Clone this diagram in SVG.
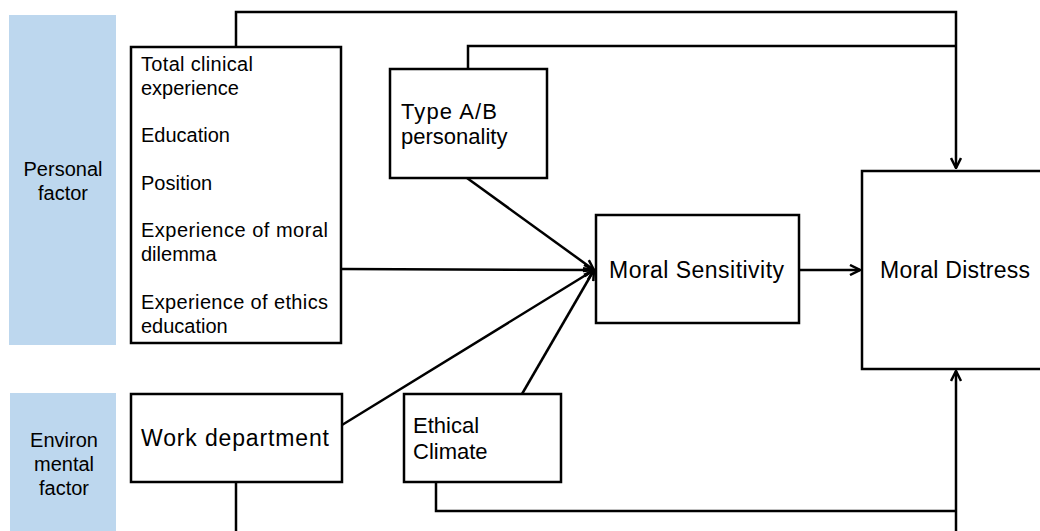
<svg xmlns="http://www.w3.org/2000/svg" width="1040" height="531" viewBox="0 0 1040 531">
<defs>
<style>
.box{fill:#fff;stroke:#000;stroke-width:2.5}
.band{fill:#BDD7EE}
.t{font-family:"Liberation Sans",Arial,sans-serif;font-size:20px;fill:#000}
.tl{font-family:"Liberation Sans",Arial,sans-serif;font-size:22px;fill:#000}
.tx{font-family:"Liberation Sans",Arial,sans-serif;font-size:23px;fill:#000}
.c{stroke:#000;stroke-width:2.5;fill:none}
</style>
<marker id="arr" viewBox="0 0 12 12" refX="11" refY="6" markerWidth="12" markerHeight="12" markerUnits="userSpaceOnUse" orient="auto">
<path d="M1,1 L11,6 L1,11" fill="none" stroke="#000" stroke-width="2.5" stroke-linejoin="miter"/>
</marker>
</defs>
<g id="personal-factor">
<rect class="band" x="9" y="15" width="107" height="330"/>
<text class="t" x="63" y="176" text-anchor="middle">Personal</text>
<text class="t" x="63" y="200" text-anchor="middle">factor</text>
</g>
<g id="environmental-factor">
<rect class="band" x="10" y="393" width="106" height="138"/>
<text class="t" x="64" y="447" text-anchor="middle">Environ</text>
<text class="t" x="64" y="471" text-anchor="middle">mental</text>
<text class="t" x="64" y="495" text-anchor="middle">factor</text>
</g>
<g id="connectors">
<polyline class="c" points="236,46 236,12 956,12 956,168" marker-end="url(#arr)"/>
<polyline class="c" points="468,68 468,46 956,46"/>
<line class="c" x1="342" y1="269" x2="594" y2="270" marker-end="url(#arr)"/>
<line class="c" x1="467" y1="178" x2="594" y2="270" marker-end="url(#arr)"/>
<line class="c" x1="342" y1="425" x2="594" y2="270" marker-end="url(#arr)"/>
<line class="c" x1="522" y1="394" x2="594" y2="270" marker-end="url(#arr)"/>
<line class="c" x1="799" y1="270" x2="860" y2="270" marker-end="url(#arr)"/>
<line class="c" x1="236" y1="482" x2="236" y2="531"/>
<polyline class="c" points="436,482 436,511 956,511"/>
<line class="c" x1="956" y1="531" x2="956" y2="371" marker-end="url(#arr)"/>
</g>
<g id="personal-variables">
<rect class="box" x="131" y="47" width="210" height="296"/>
<text class="t" x="141" y="71" textLength="112" lengthAdjust="spacing">Total clinical</text>
<text class="t" x="141" y="95">experience</text>
<text class="t" x="141" y="142">Education</text>
<text class="t" x="141" y="190">Position</text>
<text class="t" x="141" y="237" textLength="187" lengthAdjust="spacing">Experience of moral</text>
<text class="t" x="141" y="261">dilemma</text>
<text class="t" x="141" y="309" textLength="187" lengthAdjust="spacing">Experience of ethics</text>
<text class="t" x="141" y="333">education</text>
</g>
<g id="type-ab">
<rect class="box" x="390" y="69" width="157" height="109"/>
<text class="tl" x="401" y="119" textLength="96" lengthAdjust="spacing">Type A/B</text>
<text class="tl" x="401" y="144">personality</text>
</g>
<g id="moral-sensitivity">
<rect class="box" x="596" y="215" width="203" height="108"/>
<text class="tx" x="609" y="278" textLength="175" lengthAdjust="spacing">Moral Sensitivity</text>
</g>
<g id="moral-distress">
<rect class="box" x="862" y="171" width="190" height="198"/>
<text class="tx" x="880" y="278" textLength="150" lengthAdjust="spacing">Moral Distress</text>
</g>
<g id="work-department">
<rect class="box" x="131" y="394" width="211" height="88"/>
<text class="tx" x="141" y="446" textLength="188" lengthAdjust="spacing">Work department</text>
</g>
<g id="ethical-climate">
<rect class="box" x="404" y="394" width="157" height="88"/>
<text class="tl" x="413" y="433">Ethical</text>
<text class="tl" x="413" y="459">Climate</text>
</g>
</svg>
